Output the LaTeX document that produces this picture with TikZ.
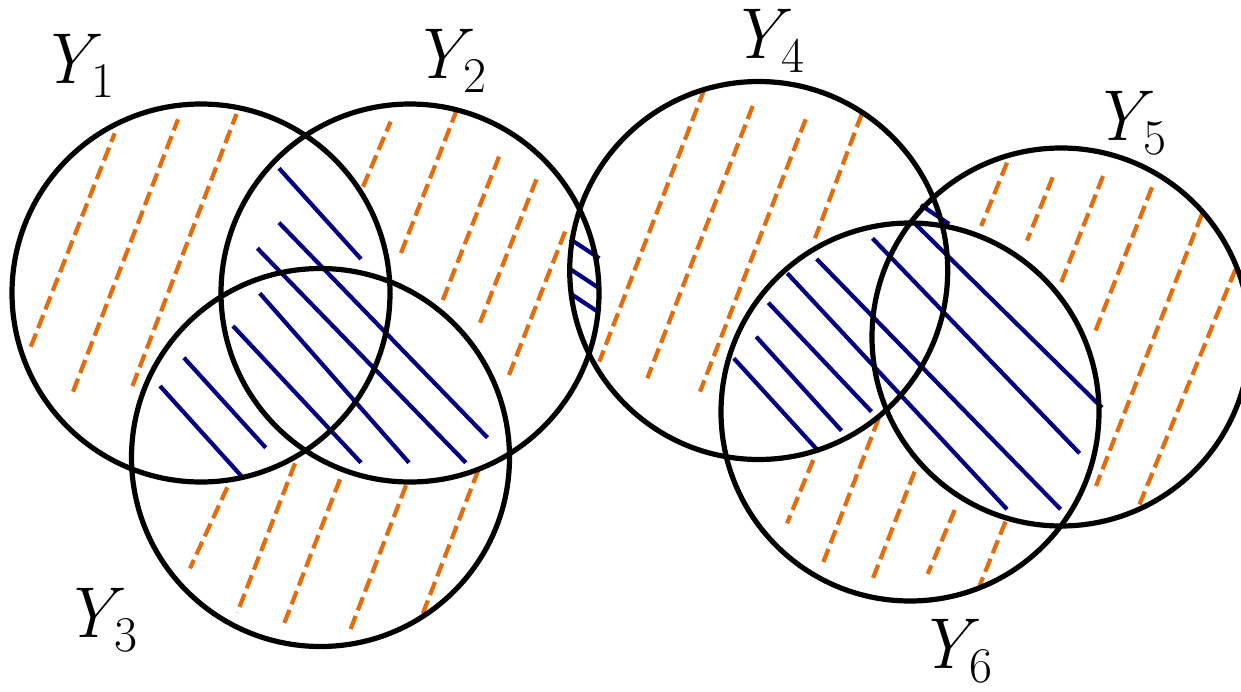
\documentclass[tikz,border=0pt]{standalone}
\usepackage{tikz}
\definecolor{hatchorange}{RGB}{228,108,10}
\definecolor{hatchnavy}{RGB}{0,0,128}
\newcommand{\setlabel}[1]{{\itshape Y}\raisebox{-14pt}{\fontsize{50}{55}\selectfont\upshape #1}}
\tikzset{
  setc/.style={draw=black, line width=5.2pt, circle, minimum size=378pt, inner sep=0pt},
  ohatch/.style={draw=hatchorange, line width=4.2pt, dash pattern=on 14pt off 6pt},
  nhatch/.style={draw=hatchnavy, line width=4.2pt},
  lab/.style={anchor=base west, inner sep=0pt, font=\fontsize{72}{80}\selectfont}
}
\begin{document}
\begin{tikzpicture}[x=1pt,y=-1pt]
\useasboundingbox (0,0) rectangle (1241,691);
% orange dashed hatching
\foreach \a/\b/\c/\d in {
  30.8/346.7/114.7/133.3, 73/391.7/178/119.3, 132.5/386/236.5/114,
  363/186.7/390.6/121.7, 401/253/458.7/105, 442.8/300/501/151.7,
  480/322.7/538.5/174, 509/375/567/226.7,
  227.3/487.3/190/568.3, 295/463.3/237.3/612.7, 340/479.3/282.3/628.3,
  406/485.3/348.7/634, 478.3/470/421/618.3,
  704.3/89.3/599.3/361.7, 752.7/106/647.3/378.3, 805.7/119.3/700/391.7,
  861.7/114/815/238.3,
  1007/162.7/981.2/226, 1052.7/177.3/1027/240.7, 1103/176/1060.6/284,
  1152/187.3/1093.4/336, 1202/214/1096/486, 1235.5/269.3/1137.5/509.3,
  813.2/460/787/523.3, 878.7/418.3/821.5/566.7, 914.6/471.7/872.5/579.3,
  954.7/510/927.7/574, 1005.4/521.7/979.5/586}
  {\draw[ohatch] (\a,\b) -- (\c,\d);}
% navy hatching
\foreach \a/\b/\c/\d in {
  279/168.3/361/259, 279/222.7/487.5/437.7, 257.4/248.3/465.8/462.7,
  259.8/293.3/409/462.7, 233/326/361/462.7, 183.9/357.7/265.7/447.7,
  160/386/242/476.7,
  570/239/599.3/258.3, 570/269/599.3/288.3, 570/293.3/599.3/312.7,
  920.8/205/949.1/224, 914/222.7/1102/407.7, 872.5/238.3/1079.6/453.3,
  816.6/259/1060.6/509.3, 787.3/273.3/1007/509.3, 768.3/302.7/871.5/411.7,
  756.2/336.7/841.5/430.7, 733.8/358.3/819/451.7}
  {\draw[nhatch] (\a,\b) -- (\c,\d);}
% sets
\node[setc] (C1) at (201,293) {};
\node[setc] (C2) at (410,293) {};
\node[setc] (C3) at (320.5,457.5) {};
\node[setc] (C4) at (758.7,270.5) {};
\node[setc] (C5) at (1061,337) {};
\node[setc] (C6) at (910,412) {};
% labels
\node[lab] (L1) at (39,83) {\setlabel{1}};
\node[lab] (L2) at (411,78) {\setlabel{2}};
\node[lab] (L3) at (62,637) {\setlabel{3}};
\node[lab] (L4) at (729,58) {\setlabel{4}};
\node[lab] (L5) at (1091,140) {\setlabel{5}};
\node[lab] (L6) at (917,668) {\setlabel{6}};
\end{tikzpicture}
\end{document}
